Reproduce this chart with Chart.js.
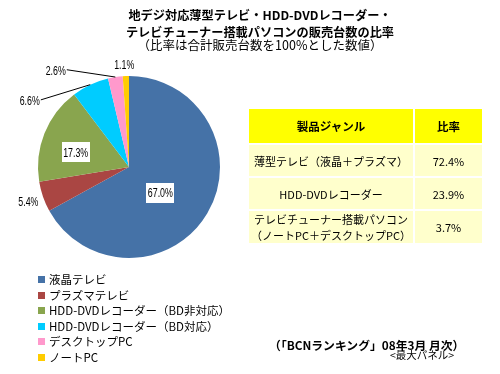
<!DOCTYPE html>
<html><head><meta charset="utf-8">
<script src="https://cdn.jsdelivr.net/npm/chart.js@4/dist/chart.umd.min.js"></script>
<style>
html,body{margin:0;padding:0;background:#fff;}
#wrap{position:relative;width:500px;height:374px;overflow:hidden;font-family:"Noto Sans CJK JP",sans-serif;color:#000;}
canvas{position:absolute;left:0;top:0;}
.abs{position:absolute;white-space:nowrap;}
.title{left:0;width:520px;text-align:center;font-weight:bold;font-size:12.2px;line-height:14px;}
table{position:absolute;left:247px;top:107px;border-collapse:separate;border-spacing:2px;font-size:11px;}
td{padding:0;text-align:center;vertical-align:middle;line-height:16px;}
th{padding:0;text-align:center;vertical-align:middle;background:#ffff00;font-weight:bold;font-size:11.5px;height:34px;}
td{background:#ffffcc;height:31px;}
#legend{position:absolute;left:38px;top:272px;font-size:11.5px;}
#legend div{height:15.5px;line-height:15.5px;position:relative;padding-left:11px;white-space:nowrap;}
#legend span{position:absolute;left:0;top:4px;width:7px;height:7px;}
</style></head>
<body><div id="wrap">
<canvas id="c" width="500" height="374"></canvas>
<div class="abs title" style="top:8px">地デジ対応薄型テレビ・HDD-DVDレコーダー・</div>
<div class="abs title" style="top:25px">テレビチューナー搭載パソコンの販売台数の比率</div>
<div class="abs title" style="top:38px;font-weight:normal;font-size:12.5px">（比率は合計販売台数を100%とした数値）</div>
<table id="tbl"></table>
<div id="legend"></div>
<div class="abs" style="left:269px;top:337px;font-weight:bold;font-size:11.8px;line-height:16px">（「BCNランキング」08年3月 月次）</div>
<div class="abs" style="left:390px;top:349px;font-size:10.5px;line-height:12px">&lt;最大パネル&gt;</div>
</div>
<script>
// ---- data ----
const categories = ["液晶テレビ","プラズマテレビ","HDD-DVDレコーダー（BD非対応）","HDD-DVDレコーダー（BD対応）","デスクトップPC","ノートPC"];
const shares = [67.0, 5.4, 17.3, 6.6, 2.6, 1.1];
const colors = ["#4572A7","#AA4643","#89A54E","#00CCFF","#FF99CC","#FFCC00"];
const tableHeader = ["製品ジャンル","比率"];
const tableGenres = ["薄型テレビ（液晶＋プラズマ）","HDD-DVDレコーダー","テレビチューナー搭載パソコン<br>（ノートPC＋デスクトップPC）"];
const tableRatios = [72.4, 23.9, 3.7];

// label placement style: f = radial fraction, ox/oy pixel nudge, box = white box, leader = line
const labelStyle = [
  {f:0.40, ox:0, oy:7, box:true},
  {f:1.17, ox:0, oy:0},
  {f:0.60, ox:-2.6, oy:5.5, box:true},
  {f:1.0, ox:-60.5, oy:15.7, leader:true},
  {f:1.0, ox:-59.6, oy:-6.8, leader:true},
  {f:1.0, ox:-1.6, oy:-11.8}
];

// table
const tbl = document.getElementById('tbl');
let html = '<tr><th style="width:164px">'+tableHeader[0]+'</th><th style="width:67px">'+tableHeader[1]+'</th></tr>';
tableGenres.forEach((g,i)=>{ html += '<tr><td>'+g+'</td><td>'+tableRatios[i].toFixed(1)+'%</td></tr>'; });
tbl.innerHTML = html;

// legend
document.getElementById('legend').innerHTML = categories.map((c,i)=>
  '<div><span style="background:'+colors[i]+'"></span>'+c+'</div>').join('');

const SX = 0.68;
const labelPlugin = {
  id:'pctLabels',
  afterDatasetsDraw(chart){
    const ctx = chart.ctx;
    const meta = chart.getDatasetMeta(0);
    ctx.save();
    ctx.font = '13px "Liberation Sans",Arial,sans-serif';
    ctx.textAlign = 'center';
    ctx.textBaseline = 'middle';
    meta.data.forEach((arc,i)=>{
      const p = arc.getProps(['x','y','startAngle','endAngle','outerRadius'], true);
      const mid = (p.startAngle + p.endAngle)/2;
      const st = labelStyle[i];
      const ex = p.x + Math.cos(mid)*p.outerRadius;
      const ey = p.y + Math.sin(mid)*p.outerRadius;
      const lx = p.x + Math.cos(mid)*p.outerRadius*st.f + st.ox;
      const ly = p.y + Math.sin(mid)*p.outerRadius*st.f + st.oy;
      const txt = shares[i].toFixed(1) + '%';
      const w = ctx.measureText(txt).width * SX;
      if (st.leader){
        ctx.strokeStyle = '#000'; ctx.lineWidth = 1;
        ctx.beginPath(); ctx.moveTo(lx + w/2 + 1, ly - 0.5); ctx.lineTo(ex, ey); ctx.stroke();
      }
      if (st.box){
        ctx.fillStyle = '#fff';
        ctx.fillRect(Math.round(lx - w/2 - 1.5), Math.round(ly - 10), Math.round(w + 3), 20);
      }
      ctx.fillStyle = '#000';
      ctx.save();
      ctx.translate(lx, ly + 1);
      ctx.scale(SX, 1);
      ctx.fillText(txt, 0, 0);
      ctx.restore();
    });
    ctx.restore();
  }
};

new Chart(document.getElementById('c'), {
  type:'pie',
  data:{labels:categories, datasets:[{data:shares, backgroundColor:colors, borderWidth:0}]},
  options:{
    responsive:false, animation:false,
    layout:{padding:{left:38, right:280, top:76, bottom:116}},
    plugins:{legend:{display:false}, title:{display:false}, tooltip:{enabled:false}}
  },
  plugins:[labelPlugin]
});
</script>
</body></html>
